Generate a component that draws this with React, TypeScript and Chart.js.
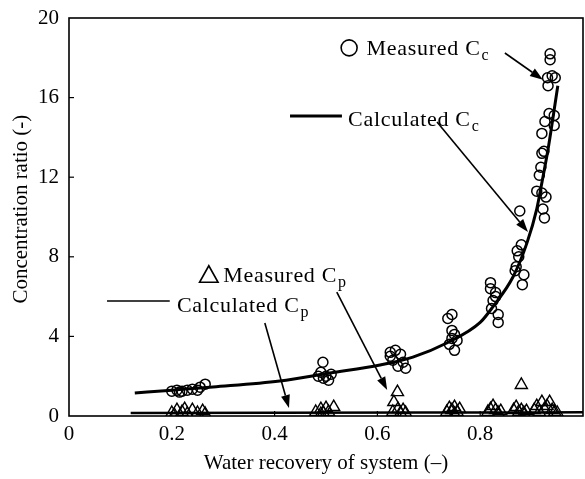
import React, { useEffect, useRef } from "react";
import { Chart, registerables } from "chart.js";

Chart.register(...registerables);

const xTickValues = [0, 0.2, 0.4, 0.6, 0.8];
const yTickValues = [0, 4, 8, 12, 16, 20];

const calcCcX = [0.128, 0.2, 0.28, 0.41, 0.508, 0.605, 0.669, 0.735, 0.8, 0.825, 0.864, 0.891, 0.91, 0.922, 0.932, 0.951];
const calcCcY = [1.16, 1.3, 1.46, 1.76, 2.16, 2.56, 2.96, 3.67, 4.7, 5.5, 7.0, 8.7, 10.4, 12.0, 13.4, 16.6];

const calcCpX = [0.12, 0.4, 0.7, 0.9, 1.0];
const calcCpY = [0.15, 0.16, 0.17, 0.18, 0.19];

const measCcX = [
  0.2, 0.21, 0.22, 0.23, 0.24, 0.25, 0.255, 0.265, 0.215,
  0.494, 0.49, 0.5, 0.505, 0.485, 0.51, 0.495,
  0.625, 0.635, 0.645, 0.63, 0.65, 0.64, 0.655, 0.625,
  0.737, 0.745, 0.745, 0.75, 0.755, 0.74, 0.75, 0.745,
  0.82, 0.82, 0.83, 0.825, 0.822, 0.835, 0.835, 0.83,
  0.877, 0.88, 0.872, 0.875, 0.87, 0.885, 0.882, 0.868,
  0.92, 0.918, 0.915, 0.91, 0.92, 0.928, 0.922, 0.925, 0.936, 0.936, 0.931, 0.94, 0.946, 0.932, 0.934, 0.944, 0.926, 0.944, 0.92, 0.924,
];
const measCcY = [
  1.25, 1.3, 1.25, 1.3, 1.35, 1.3, 1.45, 1.6, 1.2,
  2.7, 2.2, 2.0, 1.8, 2.0, 2.1, 1.9,
  3.2, 3.3, 3.1, 2.8, 2.7, 2.5, 2.4, 3.0,
  4.9, 5.1, 4.3, 4.1, 3.8, 3.6, 3.3, 3.9,
  6.7, 6.4, 6.2, 5.8, 5.4, 5.1, 4.7, 6.0,
  10.3, 8.6, 8.3, 8.0, 7.5, 7.1, 6.6, 7.3,
  13.2, 12.5, 12.1, 11.3, 11.2, 11.0, 10.4, 9.95, 18.2, 17.9, 17.0, 17.1, 17.0, 16.6, 15.2, 15.1, 14.8, 14.6, 14.2, 13.3,
];

const measCpX = [
  0.2, 0.21, 0.22, 0.225, 0.23, 0.24, 0.25, 0.26, 0.265, 0.205,
  0.48, 0.49, 0.495, 0.5, 0.505, 0.515, 0.49,
  0.639, 0.632, 0.63, 0.64, 0.645, 0.65, 0.655,
  0.735, 0.74, 0.745, 0.75, 0.755, 0.76, 0.75,
  0.815, 0.82, 0.825, 0.83, 0.835, 0.84,
  0.88, 0.865, 0.87, 0.875, 0.88, 0.885, 0.89,
  0.905, 0.91, 0.915, 0.92, 0.925, 0.93, 0.935, 0.94, 0.945, 0.95,
];
const measCpY = [
  0.15, 0.3, 0.2, 0.35, 0.1, 0.3, 0.15, 0.25, 0.1, 0.05,
  0.2, 0.35, 0.15, 0.4, 0.2, 0.45, 0.1,
  1.2, 0.7, 0.2, 0.35, 0.15, 0.3, 0.15,
  0.2, 0.4, 0.3, 0.45, 0.2, 0.35, 0.1,
  0.2, 0.35, 0.5, 0.3, 0.15, 0.25,
  1.56, 0.3, 0.45, 0.2, 0.3, 0.15, 0.25,
  0.3, 0.5, 0.2, 0.7, 0.35, 0.5, 0.7, 0.3, 0.2, 0.15,
];

const FONT = '"Liberation Serif", "Times New Roman", serif';

const toPts = (xs: number[], ys: number[]) => xs.map((x, i) => ({ x, y: ys[i] }));

function arrow(ctx: CanvasRenderingContext2D, x1: number, y1: number, x2: number, y2: number) {
  const ang = Math.atan2(y2 - y1, x2 - x1);
  const hl = 13, hw = 4.5;
  const bx = x2 - hl * Math.cos(ang), by = y2 - hl * Math.sin(ang);
  ctx.beginPath();
  ctx.moveTo(x1, y1);
  ctx.lineTo(bx, by);
  ctx.lineWidth = 1.6;
  ctx.stroke();
  ctx.beginPath();
  ctx.moveTo(x2, y2);
  ctx.lineTo(bx + hw * Math.sin(ang), by - hw * Math.cos(ang));
  ctx.lineTo(bx - hw * Math.sin(ang), by + hw * Math.cos(ang));
  ctx.closePath();
  ctx.fill();
}

function label(ctx: CanvasRenderingContext2D, text: string, sub: string, px: number, py: number) {
  ctx.font = `22px ${FONT}`;
  (ctx as any).letterSpacing = "0.7px";
  ctx.textAlign = "left";
  ctx.textBaseline = "alphabetic";
  ctx.fillText(text, px, py);
  const w = ctx.measureText(text).width;
  ctx.font = `16px ${FONT}`;
  (ctx as any).letterSpacing = "0px";
  ctx.fillText(sub, px + w + 1, py + 5);
}

const decorPlugin = {
  id: "decor",
  afterDraw(chart: any) {
    const { ctx, chartArea: a, scales } = chart;
    const X = (v: number) => scales.x.getPixelForValue(v);
    const Y = (v: number) => scales.y.getPixelForValue(v);
    ctx.save();
    ctx.strokeStyle = "#000";
    ctx.fillStyle = "#000";
    ctx.lineWidth = 1.6;
    ctx.strokeRect(a.left, a.top, a.right - a.left, a.bottom - a.top);
    ctx.lineWidth = 1.2;
    yTickValues.slice(1, -1).forEach((v) => {
      ctx.beginPath();
      ctx.moveTo(a.left, Y(v));
      ctx.lineTo(a.left + 5, Y(v));
      ctx.stroke();
    });
    xTickValues.slice(1).forEach((v) => {
      ctx.beginPath();
      ctx.moveTo(X(v), a.bottom);
      ctx.lineTo(X(v), a.bottom - 5);
      ctx.stroke();
    });

    // Measured Cc
    ctx.lineWidth = 1.6;
    ctx.beginPath();
    ctx.arc(X(0.545), Y(18.5), 8, 0, Math.PI * 2);
    ctx.stroke();
    label(ctx, "Measured C", "c", X(0.579), Y(18.14));
    arrow(ctx, X(0.848), Y(18.24), X(0.922), Y(16.9));

    // Calculated Cc
    ctx.lineWidth = 3;
    ctx.beginPath();
    ctx.moveTo(X(0.43), Y(15.08));
    ctx.lineTo(X(0.531), Y(15.08));
    ctx.stroke();
    label(ctx, "Calculated C", "c", X(0.543), Y(14.57));
    arrow(ctx, X(0.716), Y(14.77), X(0.893), Y(9.25));

    // Measured Cp
    ctx.lineWidth = 1.6;
    ctx.beginPath();
    ctx.moveTo(X(0.272), Y(7.55));
    ctx.lineTo(X(0.29), Y(6.72));
    ctx.lineTo(X(0.254), Y(6.72));
    ctx.closePath();
    ctx.stroke();
    label(ctx, "Measured C", "p", X(0.3), Y(6.72));
    arrow(ctx, X(0.521), Y(6.23), X(0.619), Y(1.31));

    // Calculated Cp
    ctx.lineWidth = 1.6;
    ctx.beginPath();
    ctx.moveTo(X(0.074), Y(5.78));
    ctx.lineTo(X(0.196), Y(5.78));
    ctx.stroke();
    label(ctx, "Calculated C", "p", X(0.21), Y(5.24));
    arrow(ctx, X(0.381), Y(4.67), X(0.428), Y(0.4));
    ctx.restore();
  },
};

export default function App() {
  const ref = useRef<HTMLCanvasElement>(null);
  useEffect(() => {
    if (!ref.current) return;
    const chart = new Chart(ref.current, {
      type: "scatter",
      data: {
        datasets: [
          {
            type: "line",
            label: "Calculated Cc",
            data: toPts(calcCcX, calcCcY),
            borderColor: "#000",
            borderWidth: 3,
            pointRadius: 0,
            cubicInterpolationMode: "monotone",
            fill: false,
            order: 1,
          } as any,
          {
            type: "line",
            label: "Calculated Cp",
            data: toPts(calcCpX, calcCpY),
            borderColor: "#000",
            borderWidth: 2.5,
            pointRadius: 0,
            fill: false,
            order: 2,
          } as any,
          {
            label: "Measured Cc",
            data: toPts(measCcX, measCcY),
            pointStyle: "circle",
            pointRadius: 5,
            borderColor: "#000",
            borderWidth: 1.5,
            backgroundColor: "rgba(0,0,0,0)",
            order: 3,
          },
          {
            label: "Measured Cp",
            data: toPts(measCpX, measCpY),
            pointStyle: "triangle",
            pointRadius: 7,
            borderColor: "#000",
            borderWidth: 1.4,
            backgroundColor: "rgba(0,0,0,0)",
            order: 4,
          },
        ],
      },
      options: {
        animation: false,
        responsive: false,
        devicePixelRatio: 1,
        layout: { autoPadding: false, padding: { top: 18, right: 2, left: 0, bottom: 0 } },
        plugins: { legend: { display: false }, tooltip: { enabled: false } },
        scales: {
          x: {
            type: "linear",
            min: 0,
            max: 1,
            afterFit: (s: any) => { s.height = 63; s.paddingLeft = 0; s.paddingRight = 0; },
            afterBuildTicks: (s: any) => { s.ticks = xTickValues.map((v) => ({ value: v })); },
            grid: { display: false, drawTicks: false },
            border: { display: false },
            ticks: {
              padding: 6,
              color: "#000",
              font: { family: FONT, size: 21 },
              callback: (v: any) => String(v),
            },
            title: {
              display: true,
              text: "Water recovery of system (–)",
              color: "#000",
              font: { family: FONT, size: 21 },
              padding: { top: 0, bottom: 3 },
            },
          },
          y: {
            min: 0,
            max: 20,
            afterFit: (s: any) => { s.width = 69; s.paddingTop = 0; s.paddingBottom = 0; },
            afterBuildTicks: (s: any) => { s.ticks = yTickValues.map((v) => ({ value: v })); },
            grid: { display: false, drawTicks: false },
            border: { display: false },
            ticks: {
              padding: 10,
              color: "#000",
              font: { family: FONT, size: 21 },
            },
            title: {
              display: true,
              text: "   Concentration ratio (-)",
              color: "#000",
              font: { family: FONT, size: 21 },
              padding: { top: 9, bottom: 0 },
            },
          },
        },
      },
      plugins: [decorPlugin],
    });
    return () => chart.destroy();
  }, []);
  return (
    <div style={{ position: "absolute", left: 0, top: 0, width: 585, height: 479, background: "#fff" }}>
      <canvas ref={ref} width={585} height={479} style={{ display: "block" }} />
    </div>
  );
}
